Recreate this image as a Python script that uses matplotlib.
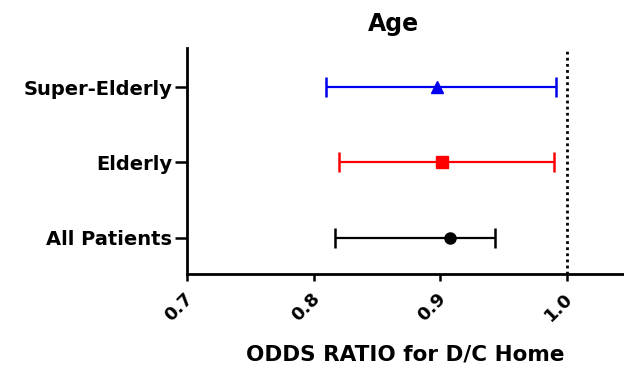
import matplotlib
matplotlib.use("Agg")
import matplotlib.pyplot as plt
import matplotlib.transforms as mtransforms

plt.rcParams['font.family'] = ['DejaVu Sans']

groups = ["All Patients", "Elderly", "Super-Elderly"]
odds = [0.908, 0.901, 0.897]
lower = [0.817, 0.820, 0.810]
upper = [0.943, 0.990, 0.991]
colors = ["black", "#ff0000", "#0000ee"]
markers = ["o", "s", "^"]
xticks = [0.7, 0.8, 0.9, 1.0]
xticklabels = ["0.7", "0.8", "0.9", "1.0"]

fig = plt.figure(figsize=(6.24, 3.66), dpi=100)
ax = fig.add_axes([0.2997, 0.2514, 0.7003, 0.6175])

for i, (g, o, lo, hi, c, m) in enumerate(zip(groups, odds, lower, upper, colors, markers)):
    y = i + 1
    ax.errorbar([o], [y], xerr=[[o - lo], [hi - o]], fmt=m, color=c, ecolor=c,
                elinewidth=1.6, capsize=7, capthick=1.8, markersize=8)

ax.axvline(1.0, color="black", linestyle=(0, (1, 1.2)), linewidth=2)

ax.set_xlim(0.7, 1.045)
ax.set_ylim(0.52, 3.52)
ax.set_yticks([1, 2, 3])
ax.set_yticklabels(groups, fontsize=14, fontweight="bold")
ax.set_xticks(xticks)
ax.set_xticklabels(xticklabels, fontsize=13, fontweight="bold", rotation=45,
                   ha="center", va="top")
ax.tick_params(axis="both", width=1.8, direction="out")
ax.tick_params(axis="x", length=5, pad=6)
ax.tick_params(axis="y", length=9, pad=1.5)
offset = mtransforms.ScaledTranslation(-8 / 100, 0, fig.dpi_scale_trans)
for lbl in ax.get_xticklabels():
    lbl.set_transform(lbl.get_transform() + offset)
for s in ["top", "right"]:
    ax.spines[s].set_visible(False)
for s in ["left", "bottom"]:
    ax.spines[s].set_linewidth(2)

ax.set_title("Age", fontsize=17, fontweight="bold", pad=12, x=(393 - 187) / (624 - 187))
ax.set_xlabel("ODDS RATIO for D/C Home", fontsize=15.5, fontweight="bold", labelpad=14)

fig.savefig("out.png", dpi=100)
